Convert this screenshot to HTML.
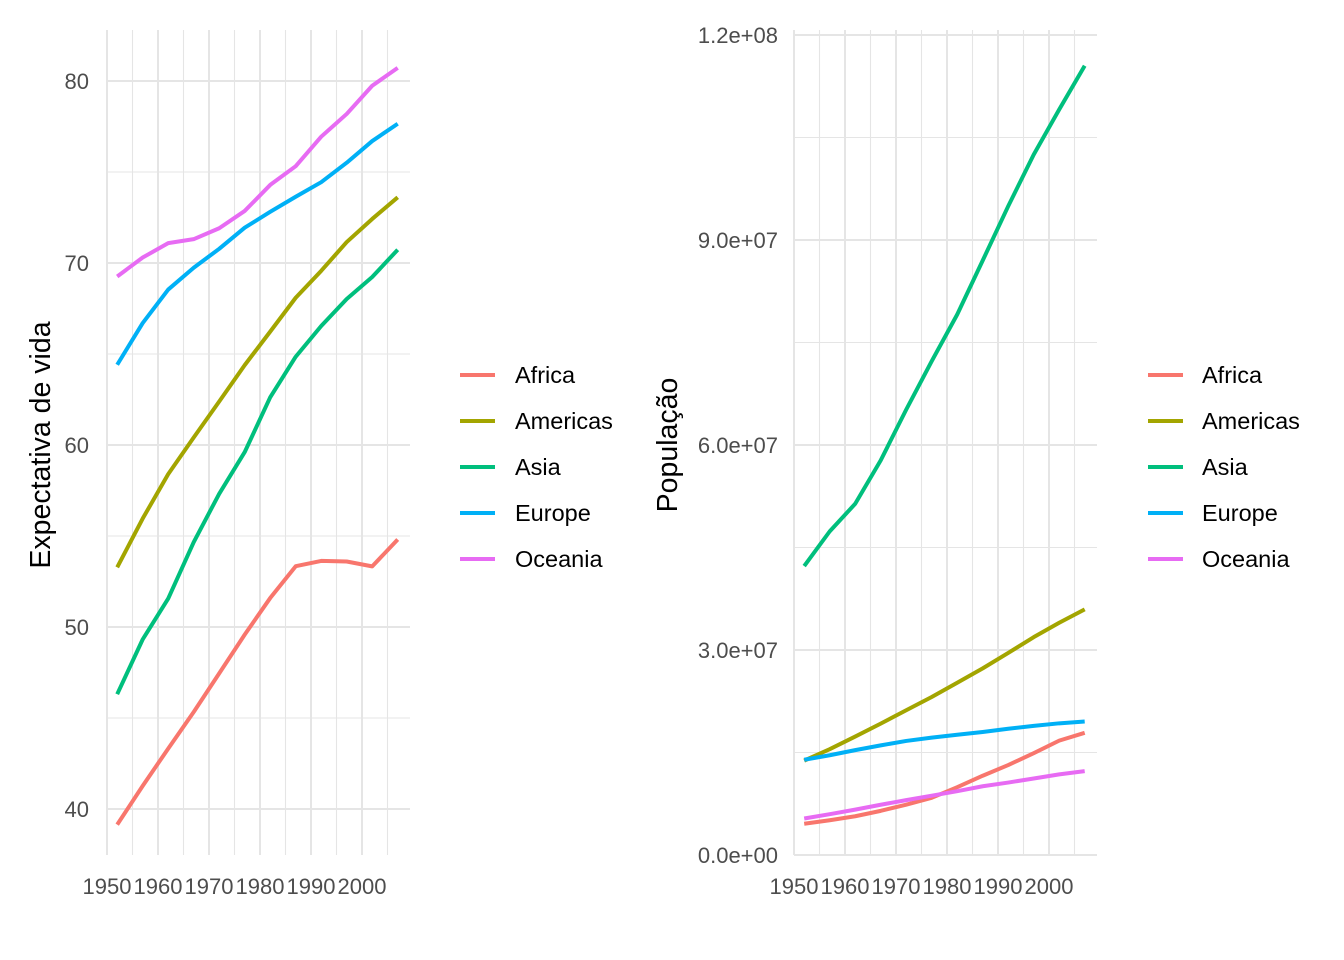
<!DOCTYPE html>
<html><head><meta charset="utf-8"><style>
body{margin:0;background:#fff;}
svg{display:block;font-family:"Liberation Sans",Arial,sans-serif;}
.tk{fill:#4D4D4D;font-size:22px;}
.tt{fill:#000;font-size:28.5px;}
.lg{fill:#000;font-size:23.5px;}
</style></head><body>
<svg id="s" width="1344" height="960" xmlns="http://www.w3.org/2000/svg">
<g id="grid"></g>
<g id="lines"></g>
<text class="tk" x="89" y="89" text-anchor="end">80</text>
<text class="tk" x="89" y="271" text-anchor="end">70</text>
<text class="tk" x="89" y="453" text-anchor="end">60</text>
<text class="tk" x="89" y="635" text-anchor="end">50</text>
<text class="tk" x="89" y="817" text-anchor="end">40</text>
<text class="tk" x="107" y="894" text-anchor="middle">1950</text>
<text class="tk" x="158" y="894" text-anchor="middle">1960</text>
<text class="tk" x="209" y="894" text-anchor="middle">1970</text>
<text class="tk" x="260" y="894" text-anchor="middle">1980</text>
<text class="tk" x="311" y="894" text-anchor="middle">1990</text>
<text class="tk" x="362" y="894" text-anchor="middle">2000</text>
<text class="tt" transform="translate(50,445) rotate(-90)" text-anchor="middle">Expectativa de vida</text>
<text class="tk" x="778" y="43" text-anchor="end">1.2e+08</text>
<text class="tk" x="778" y="248" text-anchor="end">9.0e+07</text>
<text class="tk" x="778" y="453" text-anchor="end">6.0e+07</text>
<text class="tk" x="778" y="658" text-anchor="end">3.0e+07</text>
<text class="tk" x="778" y="863" text-anchor="end">0.0e+00</text>
<text class="tk" x="794" y="894" text-anchor="middle">1950</text>
<text class="tk" x="845" y="894" text-anchor="middle">1960</text>
<text class="tk" x="896" y="894" text-anchor="middle">1970</text>
<text class="tk" x="947" y="894" text-anchor="middle">1980</text>
<text class="tk" x="998" y="894" text-anchor="middle">1990</text>
<text class="tk" x="1049" y="894" text-anchor="middle">2000</text>
<text class="tt" transform="translate(677,445) rotate(-90)" text-anchor="middle">População</text>
<g stroke-width="4">
<line x1="460" x2="495" y1="375" y2="375" stroke="#F8766D"/>
<line x1="460" x2="495" y1="421" y2="421" stroke="#A3A500"/>
<line x1="460" x2="495" y1="467" y2="467" stroke="#00BF7D"/>
<line x1="460" x2="495" y1="513" y2="513" stroke="#00B0F6"/>
<line x1="460" x2="495" y1="559" y2="559" stroke="#E76BF3"/>
<line x1="1148" x2="1183" y1="375" y2="375" stroke="#F8766D"/>
<line x1="1148" x2="1183" y1="421" y2="421" stroke="#A3A500"/>
<line x1="1148" x2="1183" y1="467" y2="467" stroke="#00BF7D"/>
<line x1="1148" x2="1183" y1="513" y2="513" stroke="#00B0F6"/>
<line x1="1148" x2="1183" y1="559" y2="559" stroke="#E76BF3"/>
</g>
<text class="lg" x="515" y="383">Africa</text>
<text class="lg" x="515" y="429">Americas</text>
<text class="lg" x="515" y="475">Asia</text>
<text class="lg" x="515" y="521">Europe</text>
<text class="lg" x="515" y="567">Oceania</text>
<text class="lg" x="1202" y="383">Africa</text>
<text class="lg" x="1202" y="429">Americas</text>
<text class="lg" x="1202" y="475">Asia</text>
<text class="lg" x="1202" y="521">Europe</text>
<text class="lg" x="1202" y="567">Oceania</text>
</svg>
<script>
var NS="http://www.w3.org/2000/svg";
function el(p,t,a){var e=document.createElementNS(NS,t);for(var k in a)e.setAttribute(k,a[k]);p.appendChild(e);return e;}
var g=document.getElementById("grid"),L=document.getElementById("lines");
var years=[1952,1957,1962,1967,1972,1977,1982,1987,1992,1997,2002,2007];
var cols=["#F8766D","#A3A500","#00BF7D","#00B0F6","#E76BF3"];
var life=[[39.14,41.27,43.32,45.33,47.45,49.58,51.59,53.34,53.63,53.60,53.33,54.81],
[53.28,55.96,58.40,60.41,62.39,64.39,66.23,68.09,69.57,71.15,72.42,73.61],
[46.31,49.32,51.56,54.66,57.32,59.61,62.62,64.85,66.54,68.02,69.23,70.73],
[64.41,66.70,68.54,69.74,70.78,71.94,72.81,73.64,74.44,75.51,76.70,77.65],
[69.26,70.30,71.09,71.31,71.91,72.86,74.29,75.32,76.94,78.19,79.74,80.72]];
var pop=[[4.57,5.09,5.67,6.46,7.36,8.37,9.92,11.6,13.16,14.9,16.74,17.88],
[13.81,15.48,17.33,19.23,21.18,23.12,25.21,27.31,29.57,31.88,33.99,35.95],
[42.28,47.36,51.40,57.75,65.18,72.26,79.1,87.0,94.95,102.5,109.1,115.5],
[13.94,14.6,15.35,16.04,16.69,17.18,17.6,18.0,18.47,18.9,19.27,19.54],
[5.34,5.97,6.64,7.35,8.03,8.68,9.34,10.06,10.6,11.2,11.8,12.27]];
function panel(x0,x1,yt,yb,xf,yf,ymaj,ymin){
 for(var v of ymin)el(g,"line",{x1:x0,x2:x1,y1:yf(v),y2:yf(v),stroke:"#E5E5E5","stroke-width":1.1});
 for(var v of ymaj)el(g,"line",{x1:x0,x2:x1,y1:yf(v),y2:yf(v),stroke:"#E5E5E5","stroke-width":2});
 for(var y=1955;y<=2005;y+=10)el(g,"line",{x1:xf(y),x2:xf(y),y1:yt,y2:yb,stroke:"#E5E5E5","stroke-width":1.1});
 for(var y=1950;y<=2000;y+=10)el(g,"line",{x1:xf(y),x2:xf(y),y1:yt,y2:yb,stroke:"#E5E5E5","stroke-width":2});
}
var xl=function(y){return 107+(y-1950)*5.1;}, yl=function(v){return 81+(80-v)*18.2;};
var xr=function(y){return 794+(y-1950)*5.1;}, yr=function(v){return 855-v*205/30;};
panel(106,410,30,855,xl,yl,[40,50,60,70,80],[45,55,65,75]);
panel(794,1097,30,855,xr,yr,[0,30,60,90,120],[15,45,75,105]);
function draw(data,xf,yf){data.forEach(function(d,i){
 el(L,"polyline",{points:d.map(function(v,j){return xf(years[j])+","+yf(v);}).join(" "),fill:"none",stroke:cols[i],"stroke-width":4,"stroke-linejoin":"round"});});}
draw(life,xl,yl);draw(pop,xr,yr);
</script>
</body></html>
